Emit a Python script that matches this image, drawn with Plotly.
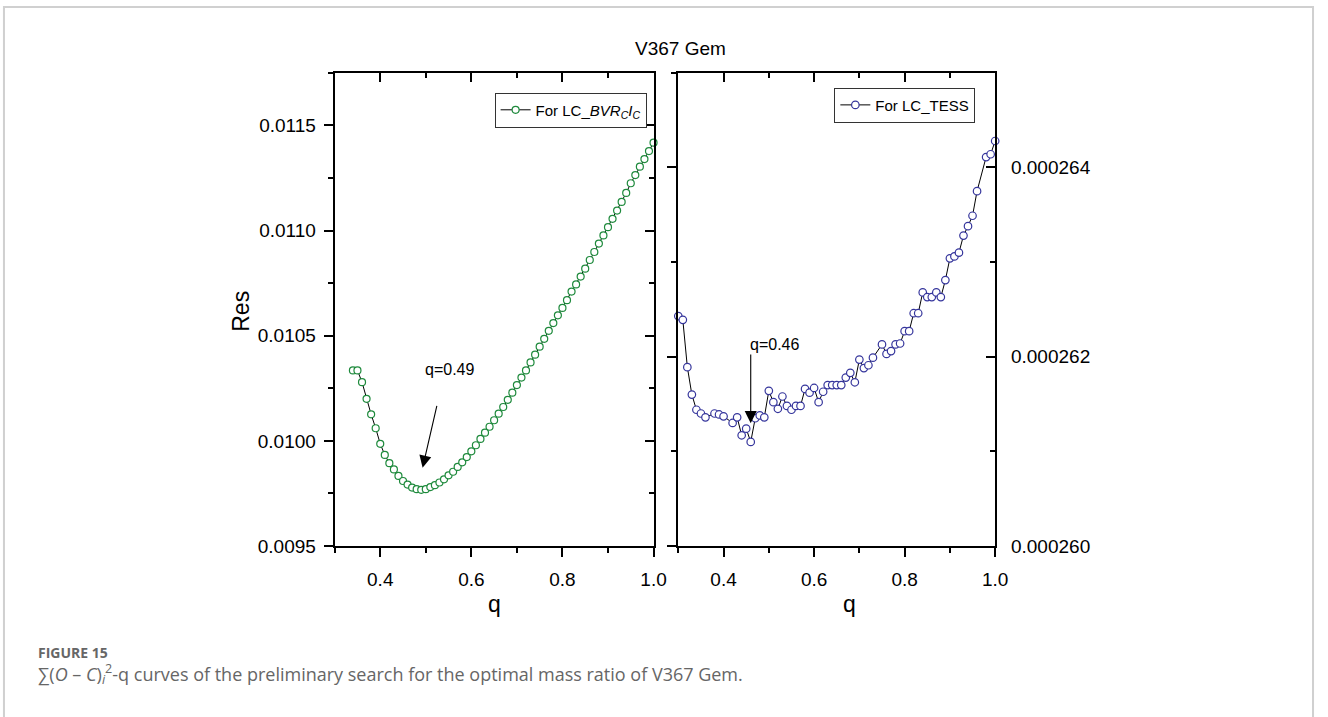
import plotly.graph_objects as go

# ---------------- data ----------------
q_bvr = [0.34, 0.35, 0.36, 0.37, 0.38, 0.39, 0.40, 0.41, 0.42, 0.43, 0.44, 0.45,
         0.46, 0.47, 0.48, 0.49, 0.50, 0.51, 0.52, 0.53, 0.54, 0.55, 0.56, 0.57,
         0.58, 0.59, 0.60, 0.61, 0.62, 0.63, 0.64, 0.65, 0.66, 0.67, 0.68, 0.69,
         0.70, 0.71, 0.72, 0.73, 0.74, 0.75, 0.76, 0.77, 0.78, 0.79, 0.80, 0.81,
         0.82, 0.83, 0.84, 0.85, 0.86, 0.87, 0.88, 0.89, 0.90, 0.91, 0.92, 0.93,
         0.94, 0.95, 0.96, 0.97, 0.98, 0.99, 1.00]
res_bvr = [0.010335, 0.010335, 0.010279, 0.010200, 0.010126, 0.010060, 0.009986,
           0.009933, 0.009894, 0.009864, 0.009833, 0.009809, 0.009792, 0.009778,
           0.009770, 0.009767, 0.009770, 0.009780, 0.009789, 0.009802, 0.009817,
           0.009836, 0.009853, 0.009876, 0.009898, 0.009923, 0.009950, 0.009979,
           0.010009, 0.010039, 0.010067, 0.010098, 0.010129, 0.010161, 0.010195,
           0.010229, 0.010265, 0.010301, 0.010335, 0.010373, 0.010410, 0.010448,
           0.010485, 0.010523, 0.010560, 0.010597, 0.010632, 0.010669, 0.010710,
           0.010744, 0.010781, 0.010819, 0.010860, 0.010898, 0.010938, 0.010977,
           0.011016, 0.011056, 0.011095, 0.011136, 0.011179, 0.011225, 0.011264,
           0.011304, 0.011340, 0.011378, 0.011418]

q_tess = [0.30, 0.31, 0.32, 0.33, 0.34, 0.35, 0.36, 0.38, 0.39, 0.40, 0.42, 0.43,
          0.44, 0.45, 0.46, 0.47, 0.48, 0.49, 0.50, 0.51, 0.52, 0.53, 0.54, 0.55,
          0.56, 0.57, 0.58, 0.59, 0.60, 0.61, 0.62, 0.63, 0.64, 0.65, 0.66, 0.67,
          0.68, 0.69, 0.70, 0.71, 0.72, 0.73, 0.75, 0.76, 0.77, 0.78, 0.79, 0.80,
          0.81, 0.82, 0.83, 0.84, 0.85, 0.86, 0.87, 0.88, 0.89, 0.90, 0.91, 0.92,
          0.93, 0.94, 0.95, 0.96, 0.98, 0.99, 1.00]
res_tess = [0.00026243, 0.00026239, 0.00026189, 0.00026160, 0.00026144, 0.00026140,
            0.00026136, 0.00026140, 0.00026139, 0.00026137, 0.00026130, 0.00026136,
            0.00026117, 0.00026124, 0.00026110, 0.00026135, 0.00026138, 0.00026136,
            0.00026164, 0.00026152, 0.00026145, 0.00026158, 0.00026148, 0.00026144,
            0.00026148, 0.00026148, 0.00026166, 0.00026162, 0.00026167, 0.00026152,
            0.00026163, 0.00026170, 0.00026170, 0.00026170, 0.00026170, 0.00026178,
            0.00026183, 0.00026173, 0.00026197, 0.00026188, 0.00026191, 0.00026199,
            0.00026213, 0.00026203, 0.00026206, 0.00026213, 0.00026214, 0.00026227,
            0.00026227, 0.00026246, 0.00026246, 0.00026268, 0.00026263, 0.00026263,
            0.00026268, 0.00026263, 0.00026281, 0.00026304, 0.00026306, 0.00026310,
            0.00026328, 0.00026338, 0.00026349, 0.00026375, 0.00026411, 0.00026414,
            0.00026428]

name_bvr = "For LC_<i>BVR</i><sub><i>C</i></sub><i>I</i><sub><i>C</i></sub>"
name_tess = "For LC_TESS"
title_text = "V367 Gem"
y_title = "Res"
x_title = "q"
min_bvr = 0.49
min_tess = 0.46
caption_head = "FIGURE 15"
caption_body = ("∑(<i>O</i> – <i>C</i>)<sub><i>i</i></sub><sup>2</sup>-q curves of the "
                "preliminary search for the optimal mass ratio of V367 Gem.")

# ---------------- layout helpers ----------------
W, H = 1328, 717
def PX(x):
    return x / W
def PY(y):
    return 1 - y / H

FONT = "Liberation Sans, Arial, sans-serif"
CAPFONT = "Open Sans, Noto Sans, sans-serif"
GREEN = "#1e8a3c"
BLUE = "#35359c"
TICKFONT = dict(family=FONT, size=19, color="black")

x_range = [0.3, 1.0]
yl_range = [0.0095, 0.01175]
yr_range = [0.000260, 0.000265]

ydom = [PY(554.5), PY(74)]
xdom_l = [PX(338), PX(660)]
xdom_r = [PX(685), PX(1005)]

fig = go.Figure()

fig.add_trace(go.Scatter(
    x=q_bvr, y=res_bvr, mode="lines+markers", name=name_bvr,
    line=dict(color="black", width=1),
    marker=dict(symbol="circle", size=7, color="white",
                line=dict(color=GREEN, width=1.2)),
    cliponaxis=False, xaxis="x", yaxis="y", legend="legend", showlegend=True))

fig.add_trace(go.Scatter(
    x=q_tess, y=res_tess, mode="lines+markers", name=name_tess,
    line=dict(color="black", width=1),
    marker=dict(symbol="circle", size=7.5, color="white",
                line=dict(color=BLUE, width=1.2)),
    cliponaxis=False, xaxis="x2", yaxis="y2", legend="legend2", showlegend=True))

# dummy traces for mirrored axes
fig.add_trace(go.Scatter(x=[], y=[], xaxis="x3", yaxis="y3", showlegend=False, hoverinfo="skip"))
fig.add_trace(go.Scatter(x=[], y=[], xaxis="x4", yaxis="y4", showlegend=False, hoverinfo="skip"))

axis_common = dict(showline=True, linecolor="black", linewidth=2, showgrid=False,
                   zeroline=False, mirror=False, tickcolor="black", tickwidth=1.5,
                   ticklen=9, tickfont=TICKFONT)
minor_x = dict(dtick=0.1, ticklen=5, tickwidth=1.5, tickcolor="black", showgrid=False)
minor_yl = dict(dtick=0.00025, ticklen=5, tickwidth=1.5, tickcolor="black", showgrid=False)
minor_yr = dict(dtick=0.000001, ticklen=5, tickwidth=1.5, tickcolor="black", showgrid=False)

fig.update_layout(
    showlegend=True,
    # left panel
    xaxis=dict(axis_common, domain=xdom_l, anchor="y", range=x_range, side="bottom",
               ticks="outside", tick0=0, dtick=0.2, tickformat=".1f",
               minor=dict(minor_x, ticks="outside"), ticklabelstandoff=6),
    yaxis=dict(axis_common, domain=ydom, anchor="x", range=yl_range, side="left",
               ticks="outside", tick0=0.0095, dtick=0.0005, tickformat=".4f",
               minor=dict(minor_yl, ticks="outside"), ticklabelstandoff=4),
    xaxis3=dict(axis_common, overlaying="x", anchor="y", range=x_range, side="top",
                ticks="inside", tick0=0, dtick=0.2, showticklabels=False,
                minor=dict(minor_x, ticks="inside")),
    yaxis3=dict(axis_common, overlaying="y", anchor="x", range=yl_range, side="right",
                ticks="inside", tick0=0.0095, dtick=0.0005, showticklabels=False,
                minor=dict(minor_yl, ticks="inside")),
    # right panel
    xaxis2=dict(axis_common, domain=xdom_r, anchor="y2", range=x_range, side="bottom",
                ticks="outside", tick0=0, dtick=0.2, tickformat=".1f",
                minor=dict(minor_x, ticks="outside"), ticklabelstandoff=6),
    yaxis2=dict(axis_common, domain=ydom, anchor="x2", range=yr_range, side="right",
                ticks="inside", tick0=0.00026, dtick=0.000002, tickformat=".6f",
                minor=dict(minor_yr, ticks="inside"), ticklabelstandoff=10),
    xaxis4=dict(axis_common, overlaying="x2", anchor="y2", range=x_range, side="top",
                ticks="inside", tick0=0, dtick=0.2, showticklabels=False,
                minor=dict(minor_x, ticks="inside")),
    yaxis4=dict(axis_common, overlaying="y2", anchor="x2", range=yr_range, side="left",
                ticks="outside", tick0=0.00026, dtick=0.000002, showticklabels=False,
                minor=dict(minor_yr, ticks="outside")),
    width=W, height=H, autosize=False,
    margin=dict(l=0, r=0, t=0, b=0),
    paper_bgcolor="white", plot_bgcolor="white",
    font=dict(family=FONT, color="black"),
    legend=dict(x=PX(653), y=PY(94), xanchor="right", yanchor="top",
                bgcolor="white", bordercolor="#333333", borderwidth=1,
                font=dict(family=FONT, size=15, color="black"),
                itemwidth=30, tracegroupgap=0, visible=True),
    legend2=dict(x=PX(985), y=PY(89), xanchor="right", yanchor="top",
                 bgcolor="white", bordercolor="#333333", borderwidth=1,
                 font=dict(family=FONT, size=15, color="black"),
                 itemwidth=30, tracegroupgap=0, visible=True),
)

def label(text, x, y, size, angle=0, xanchor="center", font=FONT, color="black"):
    return dict(text=text, x=x, y=y, xref="paper", yref="paper", xanchor=xanchor,
                yanchor="middle", textangle=angle, showarrow=False,
                font=dict(family=font, size=size, color=color))

annotations = [
    label(title_text, PX(687), PY(49), 19),
    label(y_title, PX(244), PY(316), 23, angle=-90),
    label(x_title, PX(499), PY(613), 23),
    label(x_title, PX(858), PY(613), 23),
    # left arrow + label
    dict(text="", x=0.493, y=0.009872, xref="x", yref="y",
         ax=0.525, ay=0.010173, axref="x", ayref="y",
         showarrow=True, arrowhead=2, arrowsize=2.2, arrowwidth=1.1, arrowcolor="black",
         standoff=0, startstandoff=0),
    dict(text="q=%.2f" % min_bvr, x=0.551, y=0.01034, xref="x", yref="y",
         xanchor="center", yanchor="middle", showarrow=False,
         font=dict(family=FONT, size=16, color="black")),
    # right arrow + label
    dict(text="", x=0.46, y=0.0002612984, xref="x2", yref="y2",
         ax=0.46, ay=0.00026204, axref="x2", ayref="y2",
         showarrow=True, arrowhead=2, arrowsize=2.2, arrowwidth=1.1, arrowcolor="black",
         standoff=0, startstandoff=0),
    dict(text="q=%.2f" % min_tess, x=0.5118, y=0.00026213, xref="x2", yref="y2",
         xanchor="center", yanchor="middle", showarrow=False,
         font=dict(family=FONT, size=16, color="black")),
    # caption
    label("<b>" + caption_head + "</b>", PX(36), PY(663), 14, xanchor="left",
          font=CAPFONT, color="#666666"),
    label(caption_body, PX(36), PY(684), 18, xanchor="left",
          font=CAPFONT, color="#666666"),
]
fig.update_layout(annotations=annotations)

fig.add_shape(type="rect", xref="paper", yref="paper",
              x0=PX(4), x1=PX(1326), y0=PY(730), y1=PY(7),
              line=dict(color="#d0d0d0", width=2), fillcolor="rgba(0,0,0,0)", layer="below")

fig.write_html("out.html")
